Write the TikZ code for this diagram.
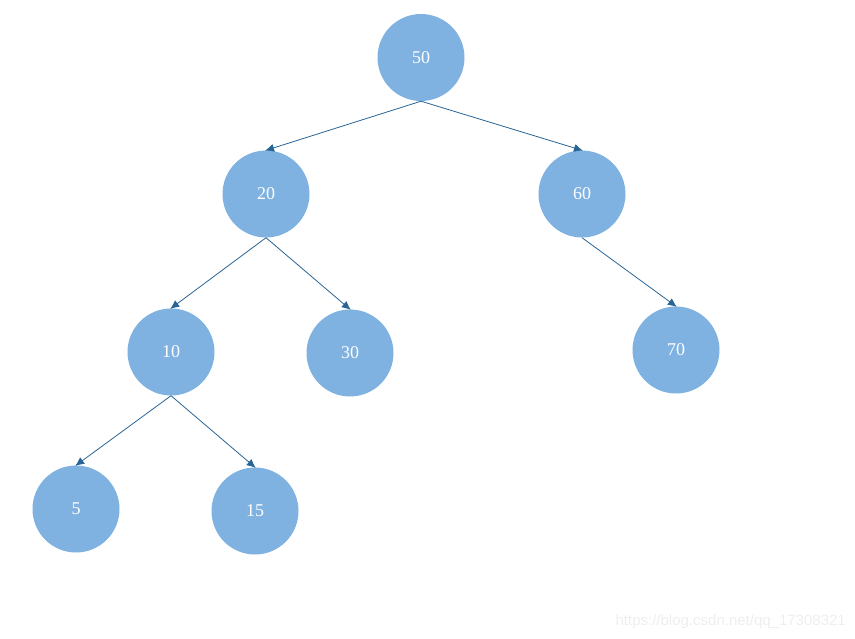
\documentclass[tikz,border=0pt]{standalone}
\usepackage{fontspec}
\setmainfont{Liberation Serif}
\newfontfamily\wmfont{Liberation Sans}
\usetikzlibrary{arrows.meta}
\definecolor{nodefill}{RGB}{127,178,224}
\definecolor{edgecol}{RGB}{40,100,150}
\definecolor{wmcol}{RGB}{238,238,238}
\begin{document}
\begin{tikzpicture}[x=1pt,y=-1pt,
  treenode/.style={circle,fill=nodefill,draw=none,minimum size=87pt,inner sep=0pt,text=white,font=\fontsize{18}{18}\selectfont},
  edge/.style={draw=edgecol,line width=0.8pt,shorten >=-1pt,-{Latex[length=9pt,width=8pt]}}]
\useasboundingbox (0,0) rectangle (855,638);
\node[treenode] (n50) at (421,57.5) {50};
\node[treenode] (n20) at (266,194) {20};
\node[treenode] (n60) at (582,194) {60};
\node[treenode] (n10) at (171,352) {10};
\node[treenode] (n30) at (350,353) {30};
\node[treenode] (n70) at (676,350) {70};
\node[treenode] (n5) at (76,509) {5};
\node[treenode] (n15) at (255,511) {15};
\draw[edge] (n50.south) -- (n20.north);
\draw[edge] (n50.south) -- (n60.north);
\draw[edge] (n20.south) -- (n10.north);
\draw[edge] (n20.south) -- (n30.north);
\draw[edge] (n60.south) -- (n70.north);
\draw[edge] (n10.south) -- (n5.north);
\draw[edge] (n10.south) -- (n15.north);
\node[anchor=base east,text=wmcol,font=\wmfont\fontsize{15}{15}\selectfont,inner sep=0pt] (wm) at (846,625) {https://blog.csdn.net/qq\_17308321};
\end{tikzpicture}
\end{document}
